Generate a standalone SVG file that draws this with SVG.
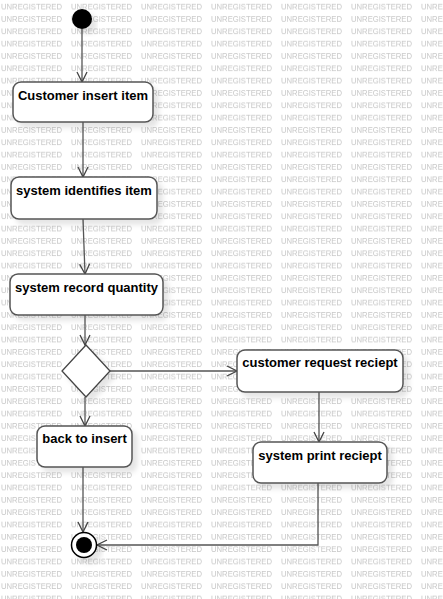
<svg xmlns="http://www.w3.org/2000/svg" width="443" height="599" viewBox="0 0 443 599">
<style>
.wm{font-family:"Liberation Sans",Arial,sans-serif;font-size:8px;fill:#c6c6c6;}
.box{fill:#fff;stroke:#555;stroke-width:1.5;filter:url(#sh);}
.lbl{font-family:"Liberation Sans",Arial,sans-serif;font-size:13px;font-weight:bold;fill:#000;text-anchor:middle;}
.edge{fill:none;stroke:#555;stroke-width:1.3;marker-end:url(#arr);}
</style>
<defs>
<pattern id="wmp" patternUnits="userSpaceOnUse" x="0" y="0" width="70" height="12.33">
<text class="wm" x="1" y="9.8" textLength="61" lengthAdjust="spacingAndGlyphs">UNREGISTERED</text>
</pattern>
<filter id="sh" x="-20%" y="-20%" width="150%" height="160%">
<feDropShadow dx="5" dy="5" stdDeviation="2.5" flood-color="#000" flood-opacity="0.1"/>
</filter>
<marker id="arr" markerUnits="userSpaceOnUse" markerWidth="12" markerHeight="12" refX="10" refY="5" orient="auto" viewBox="0 0 12 10" overflow="visible">
<path d="M0,0 L10,5 L0,10" fill="none" stroke="#444" stroke-width="1.3"/>
</marker>
</defs>
<rect width="443" height="599" fill="#fff"/>
<rect width="443" height="599" fill="url(#wmp)"/>
<g id="connectors">
<line class="edge" x1="82" y1="29" x2="82" y2="82"/>
<line class="edge" x1="83" y1="122" x2="83" y2="177"/>
<line class="edge" x1="83" y1="219" x2="85" y2="274"/>
<line class="edge" x1="85" y1="315" x2="85" y2="345"/>
<line class="edge" x1="110" y1="371" x2="237" y2="371"/>
<line class="edge" x1="85" y1="397" x2="85" y2="426"/>
<line class="edge" x1="319" y1="392" x2="319" y2="442"/>
<line class="edge" x1="83" y1="467" x2="83" y2="532"/>
<polyline class="edge" points="318,483 318,545 97,545"/>
</g>
<g id="start">
<circle cx="82" cy="19" r="10" fill="#000" filter="url(#sh)"/>
</g>
<g id="n1">
<rect class="box" x="13" y="82" width="140" height="40" rx="8"/>
<text class="lbl" x="83" y="100">Customer insert item</text>
</g>
<g id="n2">
<rect class="box" x="11" y="177" width="146" height="42" rx="8"/>
<text class="lbl" x="84" y="195">system identifies item</text>
</g>
<g id="n3">
<rect class="box" x="10" y="274" width="153" height="41" rx="8"/>
<text class="lbl" x="86.5" y="292">system record quantity</text>
</g>
<g id="decision">
<polygon points="86,345 110,371 86,397 62,371" fill="#fff" stroke="#444" stroke-width="1.3" filter="url(#sh)"/>
</g>
<g id="n4">
<rect class="box" x="37" y="426" width="95" height="41" rx="8"/>
<text class="lbl" x="84.5" y="443">back to insert</text>
</g>
<g id="n5">
<rect class="box" x="237" y="350" width="166" height="42" rx="8"/>
<text class="lbl" x="320" y="367">customer request reciept</text>
</g>
<g id="n6">
<rect class="box" x="253" y="442" width="134" height="41" rx="8"/>
<text class="lbl" x="320" y="459.5">system print reciept</text>
</g>
<g id="end">
<circle cx="84" cy="545" r="12.5" fill="#fff" stroke="#000" stroke-width="1.5" filter="url(#sh)"/>
<circle cx="84" cy="545" r="8" fill="#000"/>
</g>
</svg>
